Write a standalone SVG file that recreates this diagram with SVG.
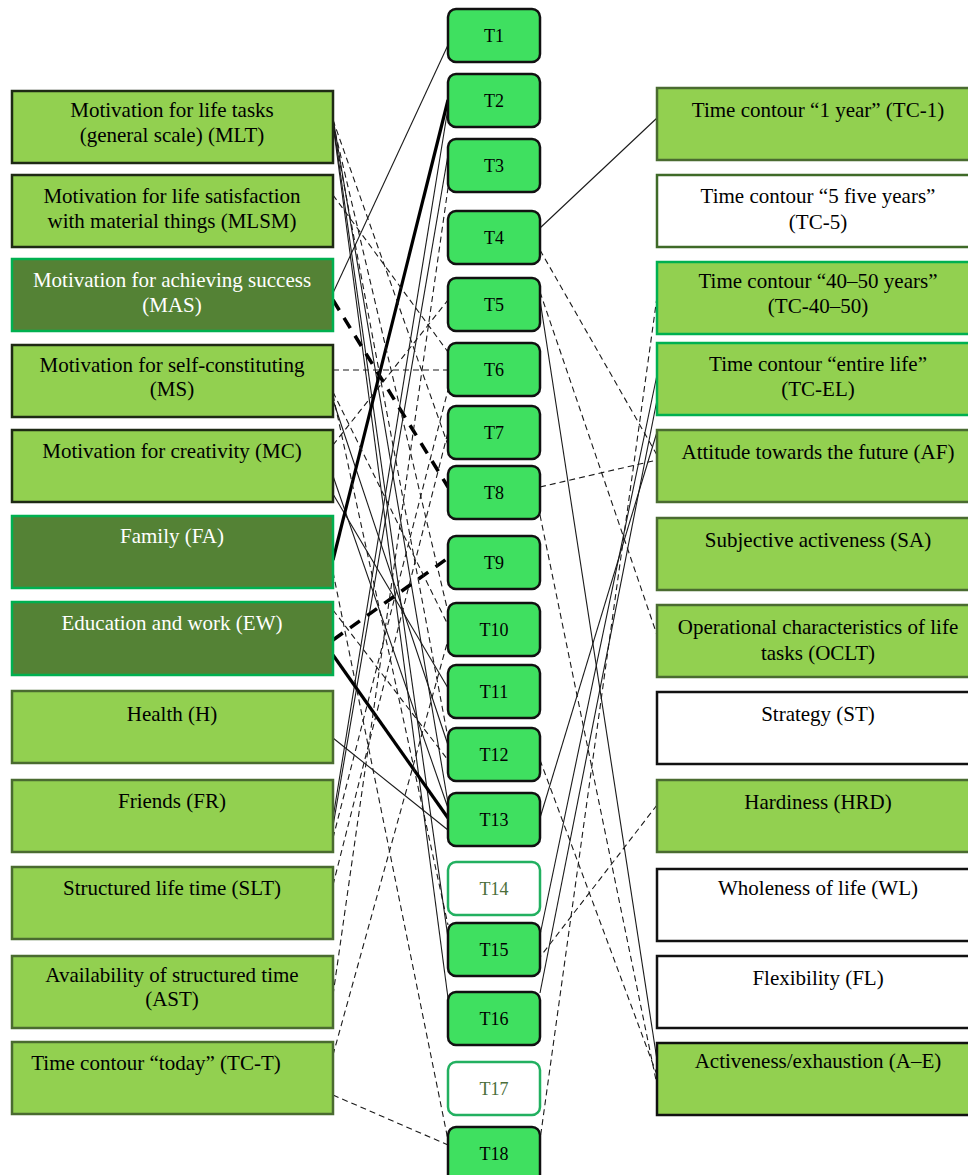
<svg xmlns="http://www.w3.org/2000/svg" width="968" height="1175" viewBox="0 0 968 1175">
<style>
  text { font-family: "Liberation Serif", "Times New Roman", serif; }
  .lbl { font-size: 21px; text-anchor: middle; fill: #000; }
  .wl { font-size: 21px; text-anchor: middle; fill: #fff; }
  .tl { font-size: 18px; text-anchor: middle; fill: #000; }
  .tlw { font-size: 18px; text-anchor: middle; fill: #4b6e3a; }
  .lg { fill: #92d050; stroke: #1e2a14; stroke-width: 2.5; }
  .lgo { fill: #92d050; stroke: #4a6b30; stroke-width: 2.5; }
  .lgb { fill: #92d050; stroke: #00b050; stroke-width: 2.5; }
  .dk { fill: #548235; stroke: #00b050; stroke-width: 2.5; }
  .wo { fill: #fff; stroke: #3f6a28; stroke-width: 2.5; }
  .wb { fill: #fff; stroke: #111; stroke-width: 2.5; }
  .lgk { fill: #92d050; stroke: #111; stroke-width: 2.5; }
  .t { fill: #3fe060; stroke: #111; stroke-width: 2.5; }
  .tw { fill: #fff; stroke: #22b060; stroke-width: 2.5; }
  .s { stroke: #1a1a1a; stroke-width: 1.1; fill: none; }
  .d { stroke: #1a1a1a; stroke-width: 1.1; fill: none; stroke-dasharray: 6 4; }
  .S { stroke: #000; stroke-width: 3.2; fill: none; }
  .D { stroke: #000; stroke-width: 3.5; fill: none; stroke-dasharray: 12 9; }
</style>

<g id="connectors">
  <!-- left side: thin solid -->
  <line class="s" x1="333" y1="293" x2="448" y2="45"/>
  <line class="s" x1="333" y1="818" x2="448" y2="108"/>
  <line class="s" x1="333" y1="826" x2="448" y2="155"/>
  <line class="s" x1="333" y1="118" x2="448" y2="803"/>
  <line class="s" x1="333" y1="121" x2="448" y2="938"/>
  <line class="s" x1="333" y1="124" x2="448" y2="998"/>
  <line class="s" x1="333" y1="476" x2="448" y2="808"/>
  <line class="s" x1="333" y1="494" x2="448" y2="688"/>
  <line class="s" x1="333" y1="738" x2="448" y2="830"/>
  <line class="s" x1="333" y1="400" x2="448" y2="745"/>
  <!-- left side: thick -->
  <line class="S" x1="333" y1="560" x2="448" y2="100"/>
  <line class="S" x1="333" y1="655" x2="448" y2="818"/>
  <line class="D" x1="333" y1="300" x2="448" y2="487"/>
  <line class="D" x1="333" y1="640" x2="448" y2="558"/>
  <!-- left side: thin dashed -->
  <line class="d" x1="333" y1="370" x2="448" y2="370"/>
  <line class="d" x1="333" y1="195" x2="448" y2="352"/>
  <line class="d" x1="333" y1="120" x2="448" y2="445"/>
  <line class="d" x1="333" y1="123" x2="448" y2="612"/>
  <line class="d" x1="333" y1="126" x2="448" y2="738"/>
  <line class="d" x1="333" y1="395" x2="448" y2="925"/>
  <line class="d" x1="333" y1="392" x2="448" y2="625"/>
  <line class="d" x1="333" y1="445" x2="448" y2="300"/>
  <line class="d" x1="333" y1="572" x2="448" y2="1140"/>
  <line class="d" x1="333" y1="1095" x2="448" y2="1145"/>
  <line class="d" x1="333" y1="1055" x2="448" y2="640"/>
  <line class="d" x1="333" y1="995" x2="448" y2="188"/>
  <line class="d" x1="333" y1="885" x2="448" y2="432"/>
  <line class="d" x1="333" y1="838" x2="448" y2="390"/>
  <line class="d" x1="333" y1="610" x2="448" y2="760"/>
  <!-- right side -->
  <line class="s" x1="540" y1="228" x2="657" y2="118"/>
  <line class="d" x1="540" y1="250" x2="657" y2="455"/>
  <line class="d" x1="540" y1="292" x2="657" y2="635"/>
  <line class="s" x1="540" y1="300" x2="657" y2="1060"/>
  <line class="d" x1="540" y1="487" x2="657" y2="460"/>
  <line class="d" x1="540" y1="515" x2="657" y2="1085"/>
  <line class="d" x1="657" y1="297" x2="540" y2="1140"/>
  <line class="s" x1="657" y1="375" x2="540" y2="935"/>
  <line class="s" x1="657" y1="432" x2="540" y2="818"/>
  <line class="s" x1="657" y1="400" x2="540" y2="993"/>
  <line class="d" x1="657" y1="805" x2="540" y2="957"/>
  <line class="d" x1="540" y1="760" x2="657" y2="1075"/>
</g>

<!-- left column -->
<g id="MLT"><rect class="lg" x="12" y="91" width="321" height="72"/>
  <text class="lbl" x="172" y="117">Motivation for life tasks</text>
  <text class="lbl" x="172" y="142">(general scale) (MLT)</text></g>
<g id="MLSM"><rect class="lg" x="12" y="175" width="321" height="72"/>
  <text class="lbl" x="172" y="203">Motivation for life satisfaction</text>
  <text class="lbl" x="172" y="228">with material things (MLSM)</text></g>
<g id="MAS"><rect class="dk" x="12" y="259" width="321" height="72"/>
  <text class="wl" x="172" y="287">Motivation for achieving success</text>
  <text class="wl" x="172" y="312">(MAS)</text></g>
<g id="MS"><rect class="lg" x="12" y="345" width="321" height="72"/>
  <text class="lbl" x="172" y="372">Motivation for self-constituting</text>
  <text class="lbl" x="172" y="396">(MS)</text></g>
<g id="MC"><rect class="lg" x="12" y="430" width="321" height="72"/>
  <text class="lbl" x="172" y="458">Motivation for creativity (MC)</text></g>
<g id="FA"><rect class="dk" x="12" y="516" width="321" height="72"/>
  <text class="wl" x="172" y="543">Family (FA)</text></g>
<g id="EW"><rect class="dk" x="12" y="602" width="321" height="73"/>
  <text class="wl" x="172" y="630">Education and work (EW)</text></g>
<g id="H"><rect class="lgo" x="12" y="691" width="321" height="72"/>
  <text class="lbl" x="172" y="721">Health (H)</text></g>
<g id="FR"><rect class="lgo" x="12" y="780" width="321" height="72"/>
  <text class="lbl" x="172" y="808">Friends (FR)</text></g>
<g id="SLT"><rect class="lgo" x="12" y="867" width="321" height="72"/>
  <text class="lbl" x="172" y="895">Structured life time (SLT)</text></g>
<g id="AST"><rect class="lgo" x="12" y="956" width="321" height="72"/>
  <text class="lbl" x="172" y="982">Availability of structured time</text>
  <text class="lbl" x="172" y="1006">(AST)</text></g>
<g id="TC-T"><rect class="lgo" x="12" y="1042" width="321" height="72"/>
  <text class="lbl" x="156" y="1070">Time contour “today” (TC-T)</text></g>

<!-- middle column -->
<g id="T1"><rect class="t" x="448" y="9" width="92" height="53" rx="8"/><text class="tl" x="494" y="42">T1</text></g>
<g id="T2"><rect class="t" x="448" y="74" width="92" height="53" rx="8"/><text class="tl" x="494" y="107">T2</text></g>
<g id="T3"><rect class="t" x="448" y="139" width="92" height="53" rx="8"/><text class="tl" x="494" y="172">T3</text></g>
<g id="T4"><rect class="t" x="448" y="211" width="92" height="53" rx="8"/><text class="tl" x="494" y="244">T4</text></g>
<g id="T5"><rect class="t" x="448" y="278" width="92" height="53" rx="8"/><text class="tl" x="494" y="311">T5</text></g>
<g id="T6"><rect class="t" x="448" y="343" width="92" height="53" rx="8"/><text class="tl" x="494" y="376">T6</text></g>
<g id="T7"><rect class="t" x="448" y="406" width="92" height="53" rx="8"/><text class="tl" x="494" y="439">T7</text></g>
<g id="T8"><rect class="t" x="448" y="466" width="92" height="53" rx="8"/><text class="tl" x="494" y="499">T8</text></g>
<g id="T9"><rect class="t" x="448" y="536" width="92" height="53" rx="8"/><text class="tl" x="494" y="569">T9</text></g>
<g id="T10"><rect class="t" x="448" y="603" width="92" height="53" rx="8"/><text class="tl" x="494" y="636">T10</text></g>
<g id="T11"><rect class="t" x="448" y="665" width="92" height="53" rx="8"/><text class="tl" x="494" y="698">T11</text></g>
<g id="T12"><rect class="t" x="448" y="728" width="92" height="53" rx="8"/><text class="tl" x="494" y="761">T12</text></g>
<g id="T13"><rect class="t" x="448" y="793" width="92" height="53" rx="8"/><text class="tl" x="494" y="826">T13</text></g>
<g id="T14"><rect class="tw" x="448" y="862" width="92" height="53" rx="8"/><text class="tlw" x="494" y="895">T14</text></g>
<g id="T15"><rect class="t" x="448" y="923" width="92" height="53" rx="8"/><text class="tl" x="494" y="956">T15</text></g>
<g id="T16"><rect class="t" x="448" y="992" width="92" height="53" rx="8"/><text class="tl" x="494" y="1025">T16</text></g>
<g id="T17"><rect class="tw" x="448" y="1062" width="92" height="53" rx="8"/><text class="tlw" x="494" y="1095">T17</text></g>
<g id="T18"><rect class="t" x="448" y="1127" width="92" height="56" rx="8"/><text class="tl" x="494" y="1160">T18</text></g>

<!-- right column -->
<g id="TC-1"><rect class="lgo" x="657" y="88" width="323" height="72"/>
  <text class="lbl" x="818" y="117">Time contour “1 year” (TC-1)</text></g>
<g id="TC-5"><rect class="wo" x="657" y="175" width="323" height="72"/>
  <text class="lbl" x="818" y="203">Time contour “5 five years”</text>
  <text class="lbl" x="818" y="229">(TC-5)</text></g>
<g id="TC-40-50"><rect class="lgb" x="657" y="262" width="323" height="72"/>
  <text class="lbl" x="818" y="288">Time contour “40–50 years”</text>
  <text class="lbl" x="818" y="313">(TC-40–50)</text></g>
<g id="TC-EL"><rect class="lgb" x="657" y="343" width="323" height="72"/>
  <text class="lbl" x="818" y="371">Time contour “entire life”</text>
  <text class="lbl" x="818" y="396">(TC-EL)</text></g>
<g id="AF"><rect class="lgo" x="657" y="430" width="323" height="72"/>
  <text class="lbl" x="818" y="459">Attitude towards the future (AF)</text></g>
<g id="SA"><rect class="lgo" x="657" y="518" width="323" height="72"/>
  <text class="lbl" x="818" y="547">Subjective activeness (SA)</text></g>
<g id="OCLT"><rect class="lgo" x="657" y="605" width="323" height="72"/>
  <text class="lbl" x="818" y="634">Operational characteristics of life</text>
  <text class="lbl" x="818" y="660">tasks (OCLT)</text></g>
<g id="ST"><rect class="wb" x="657" y="692" width="323" height="72"/>
  <text class="lbl" x="818" y="721">Strategy (ST)</text></g>
<g id="HRD"><rect class="lgo" x="657" y="780" width="323" height="72"/>
  <text class="lbl" x="818" y="809">Hardiness (HRD)</text></g>
<g id="WL"><rect class="wb" x="657" y="869" width="323" height="72"/>
  <text class="lbl" x="818" y="895">Wholeness of life (WL)</text></g>
<g id="FL"><rect class="wb" x="657" y="956" width="323" height="72"/>
  <text class="lbl" x="818" y="985">Flexibility (FL)</text></g>
<g id="A-E"><rect class="lgk" x="657" y="1043" width="323" height="72"/>
  <text class="lbl" x="818" y="1068">Activeness/exhaustion (A–E)</text></g>
</svg>
